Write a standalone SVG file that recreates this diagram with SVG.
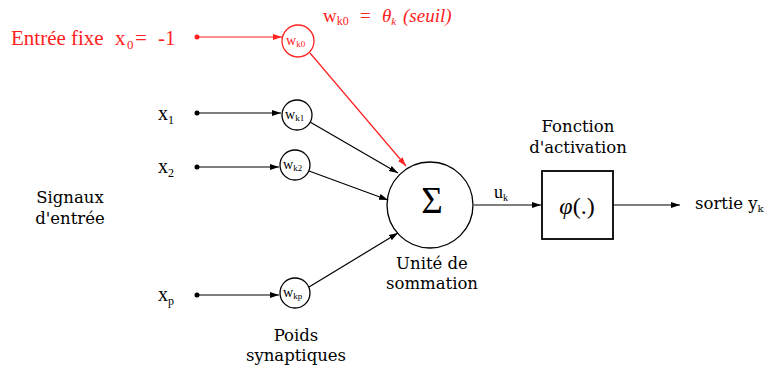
<svg xmlns="http://www.w3.org/2000/svg" width="769" height="374" viewBox="0 0 769 374">
<style>
text{fill:#000}
.red{fill:#ff2020}
.l{stroke:#000;stroke-width:1.2;fill:none}
.lr{stroke:#ff2020;stroke-width:1.2;fill:none}
.c{stroke:#000;stroke-width:1.3;fill:#fff}
.cr{stroke:#ff2020;stroke-width:1.3;fill:#fff}
</style>
<defs>
<marker id="a" markerWidth="10" markerHeight="8" refX="9" refY="4" orient="auto" markerUnits="userSpaceOnUse"><path d="M0,1 L9,4 L0,7 z" fill="#000"/></marker>
<marker id="ar" markerWidth="10" markerHeight="8" refX="9" refY="4" orient="auto" markerUnits="userSpaceOnUse"><path d="M0,1 L9,4 L0,7 z" fill="#ff2020"/></marker>
</defs>
<g id="connectors">
<line class="lr" x1="197" y1="37" x2="282" y2="37" marker-end="url(#ar)"/>
<line class="lr" x1="310" y1="53" x2="406" y2="166" marker-end="url(#ar)"/>
<line class="l" x1="197" y1="113" x2="281" y2="113" marker-end="url(#a)"/>
<line class="l" x1="197" y1="167" x2="279" y2="167" marker-end="url(#a)"/>
<line class="l" x1="197" y1="295" x2="279" y2="295" marker-end="url(#a)"/>
<line class="l" x1="310" y1="122" x2="398" y2="173" marker-end="url(#a)"/>
<line class="l" x1="309" y1="171" x2="388" y2="200" marker-end="url(#a)"/>
<line class="l" x1="309" y1="287" x2="398" y2="233" marker-end="url(#a)"/>
<line class="l" x1="474" y1="205" x2="541" y2="205" marker-end="url(#a)"/>
<line class="l" x1="613" y1="205" x2="680" y2="205" marker-end="url(#a)"/>
<circle cx="197" cy="37" r="2.5" fill="#ff2020"/>
<circle cx="197" cy="113" r="2.5" fill="#000"/>
<circle cx="197" cy="167" r="2.5" fill="#000"/>
<circle cx="197" cy="295" r="2.5" fill="#000"/>
</g>
<g id="x0" font-family="Liberation Serif" font-size="21">
<text class="red" x="11" y="45">Entrée fixe</text>
<text class="red" x="115" y="45">x<tspan font-size="13" x="127" dy="4">0</tspan><tspan x="135" dy="-4">=</tspan><tspan x="158">-1</tspan></text>
</g>
<g id="wk0label" font-family="Liberation Serif" font-size="19">
<text class="red" x="323" y="22">w<tspan font-size="12" dy="3">k0</tspan><tspan x="360" dy="-3">=</tspan><tspan x="382" font-style="italic">θ</tspan><tspan font-size="11" font-style="italic" dy="3">k</tspan><tspan x="403" dy="-3" font-style="italic">(seuil)</tspan></text>
</g>
<g id="wk0" font-family="Liberation Serif">
<circle class="cr" cx="298" cy="41" r="16"/>
<text class="red" x="286" y="45" font-size="14">w<tspan font-size="9" dy="2">k0</tspan></text>
</g>
<g id="x1" font-family="Liberation Serif" font-size="20"><text x="158" y="120">x<tspan font-size="12" dy="4">1</tspan></text></g>
<g id="x2" font-family="Liberation Serif" font-size="20"><text x="158" y="173">x<tspan font-size="12" dy="4">2</tspan></text></g>
<g id="xp" font-family="Liberation Serif" font-size="20"><text x="158" y="301">x<tspan font-size="12" dy="4">p</tspan></text></g>
<g id="wk1" font-family="Liberation Serif">
<circle class="c" cx="297" cy="115" r="15"/>
<text x="285" y="119" font-size="14">w<tspan font-size="9" dy="2">k1</tspan></text>
</g>
<g id="wk2" font-family="Liberation Serif">
<circle class="c" cx="295" cy="165" r="15"/>
<text x="283" y="169" font-size="14">w<tspan font-size="9" dy="2">k2</tspan></text>
</g>
<g id="wkp" font-family="Liberation Serif">
<circle class="c" cx="295" cy="293" r="15"/>
<text x="283" y="297" font-size="14">w<tspan font-size="9" dy="2">kp</tspan></text>
</g>
<g id="signaux" font-family="DejaVu Serif" font-size="16.5">
<text x="70" y="203" text-anchor="middle">Signaux</text>
<text x="70" y="224" text-anchor="middle">d'entrée</text>
</g>
<g id="poids" font-family="DejaVu Serif" font-size="16.5">
<text x="296" y="341" text-anchor="middle">Poids</text>
<text x="296" y="361" text-anchor="middle">synaptiques</text>
</g>
<g id="sum">
<circle class="c" cx="430" cy="205" r="43"/>
<text x="432" y="213" text-anchor="middle" font-size="37" font-family="Liberation Serif">Σ</text>
<text x="432" y="269" text-anchor="middle" font-family="DejaVu Serif" font-size="16.5">Unité de</text>
<text x="432" y="289" text-anchor="middle" font-family="DejaVu Serif" font-size="16.5">sommation</text>
</g>
<g id="uk" font-family="Liberation Serif" font-size="18"><text x="494" y="198">u<tspan font-size="10" dy="3">k</tspan></text></g>
<g id="activation">
<rect x="542" y="171" width="71" height="68" fill="#fff" stroke="#000" stroke-width="1.8"/>
<text x="577" y="214" text-anchor="middle" font-size="24" font-family="Liberation Serif"><tspan font-style="italic">φ</tspan>(.)</text>
<text x="578" y="132" text-anchor="middle" font-family="DejaVu Serif" font-size="16.5">Fonction</text>
<text x="578" y="153" text-anchor="middle" font-family="DejaVu Serif" font-size="16.5">d'activation</text>
</g>
<g id="sortie" font-family="DejaVu Serif" font-size="16.5"><text x="695" y="209">sortie y<tspan font-size="10" dy="3">k</tspan></text></g>
</svg>
